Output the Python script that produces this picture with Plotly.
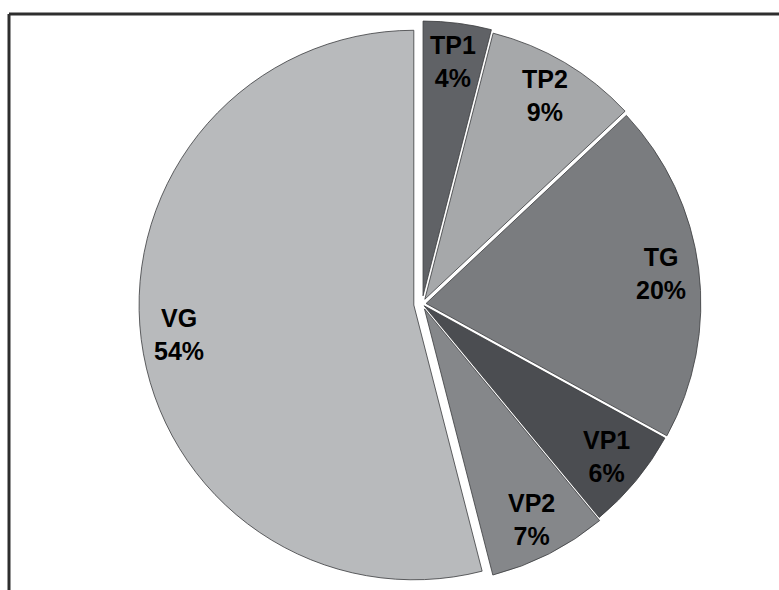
import math
import plotly.graph_objects as go

# Share of each group
labels = ["TP1", "TP2", "TG", "VP1", "VP2", "VG"]
values = [4, 9, 20, 6, 7, 54]
colors = ["#606266", "#a6a8aa", "#7a7c7f", "#4b4d51", "#85878a", "#b8babc"]
pulls = [0.03, 0.02, 0.015, 0.01, 0.02, 0.03]

W, H = 779, 590
cx, cy = 422, 304          # pie centre in pixels (from top-left)
half = 283                 # half of the square pie domain in pixels

fig = go.Figure(
    go.Pie(
        labels=labels,
        values=values,
        sort=False,
        direction="clockwise",
        rotation=0,
        pull=pulls,
        textinfo="none",
        hoverinfo="label+percent",
        marker=dict(colors=colors, line=dict(color="#3a3b3e", width=0.8)),
        domain=dict(
            x=[(cx - half) / W, (cx + half) / W],
            y=[1 - (cy + half) / H, 1 - (cy - half) / H],
        ),
        showlegend=False,
    )
)

# Labels placed along each slice's bisector, toward the rim
radius = half / (1 + max(pulls))
total = sum(values)
cum = 0
annotations = []
for lab, v, p in zip(labels, values, pulls):
    mid = (cum + v / 2) / total * 2 * math.pi
    cum += v
    r = radius * (0.86 + p)
    px = cx + r * math.sin(mid)
    py = cy - r * math.cos(mid)
    pct = round(v / total * 100)
    annotations.append(
        dict(
            x=px / W, y=1 - py / H, xref="paper", yref="paper",
            text=f"<b>{lab}<br>{pct}%</b>", showarrow=False,
            font=dict(family="Liberation Sans, Arial", size=25, color="#000000"),
            xanchor="center", yanchor="middle",
        )
    )

# Frame lines along the top and left edges
shapes = [
    dict(type="line", xref="paper", yref="paper",
         x0=9 / W, x1=1, y0=1 - 14 / H, y1=1 - 14 / H,
         line=dict(color="#2e2e2e", width=3)),
    dict(type="line", xref="paper", yref="paper",
         x0=9 / W, x1=9 / W, y0=0, y1=1 - 14 / H,
         line=dict(color="#2e2e2e", width=3)),
]

fig.update_layout(
    width=W, height=H,
    margin=dict(l=0, r=0, t=0, b=0),
    paper_bgcolor="#ffffff",
    plot_bgcolor="#ffffff",
    annotations=annotations,
    shapes=shapes,
)

fig.write_html("out.html")
